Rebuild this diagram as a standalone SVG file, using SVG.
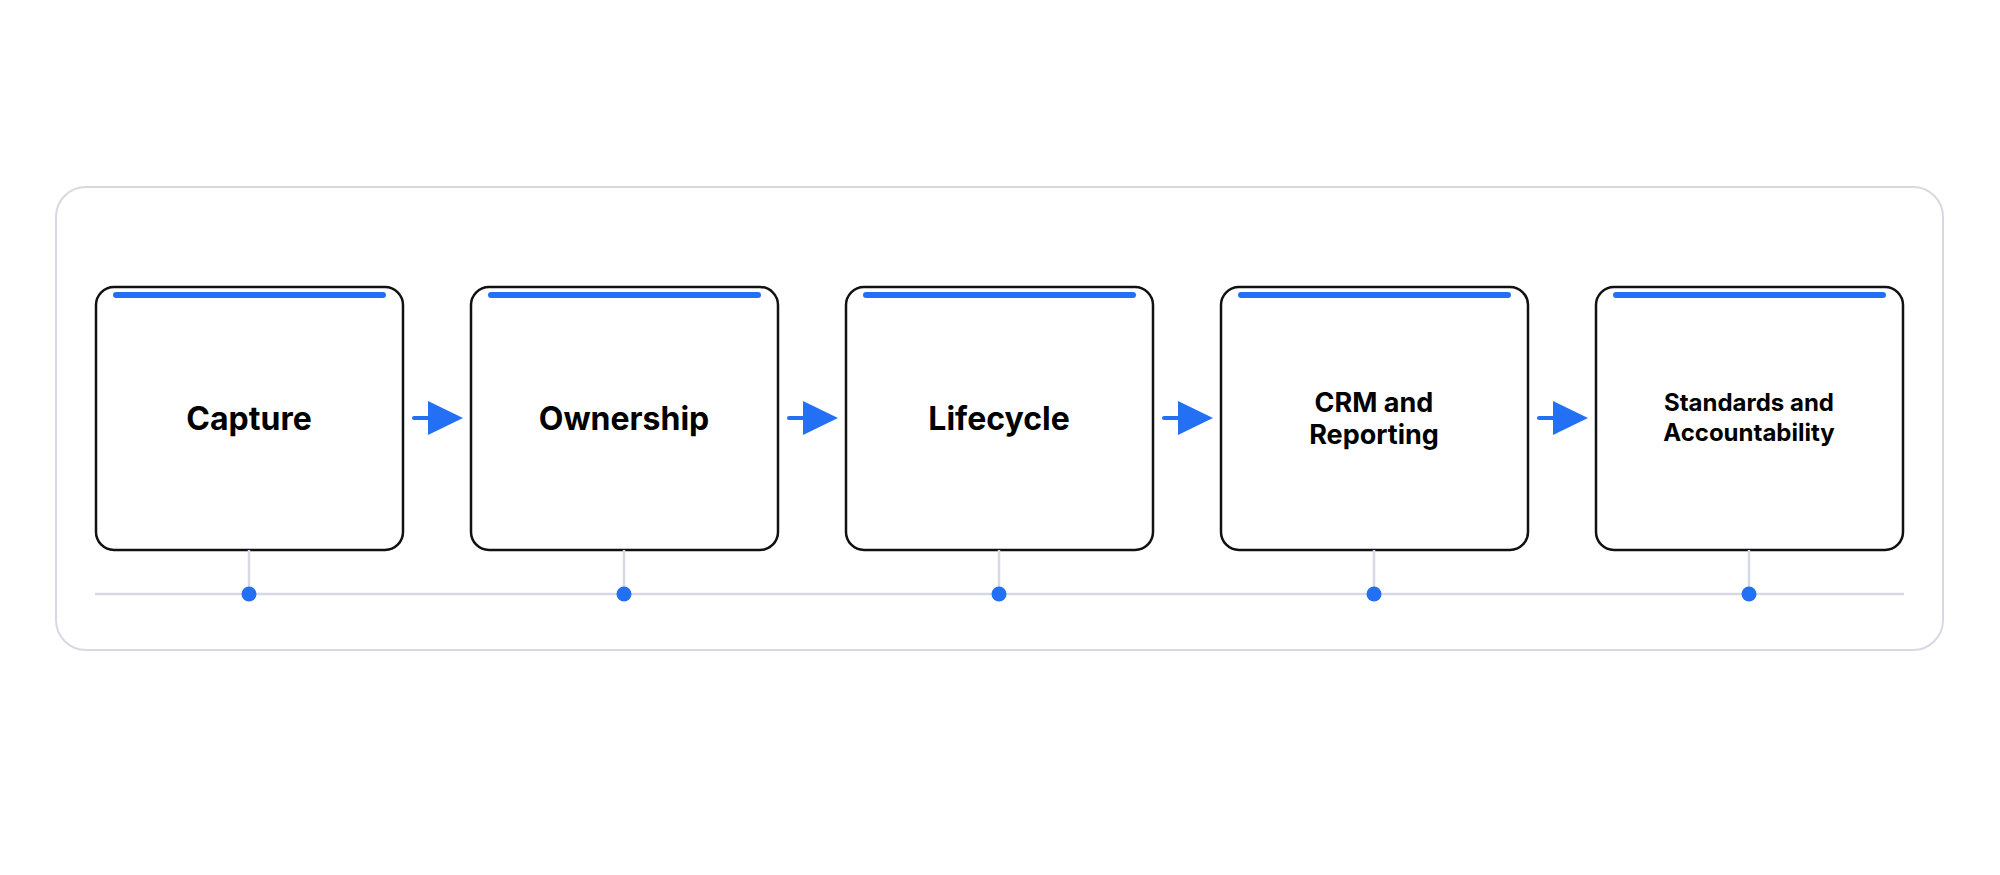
<svg xmlns="http://www.w3.org/2000/svg" width="2000" height="875" viewBox="0 0 2000 875">
<defs><style>
.card{fill:#fff;stroke:#111;stroke-width:2.5}
.bar{stroke:#2470f5;stroke-width:6;stroke-linecap:round}
.lbl{font-family:Inter,"Liberation Sans",sans-serif;font-weight:700;fill:#000;text-anchor:middle}
.grey{stroke:#d6d9e3;stroke-width:2.5}
.dot{fill:#2470f5}
.arr{stroke:#2470f5;stroke-width:4;stroke-linecap:round}
.head{fill:#2470f5}
</style></defs>
<rect width="2000" height="875" fill="#fff"/>
<rect x="56" y="187" width="1887" height="463" rx="30" fill="#fff" stroke="#d6d9e3" stroke-width="2"/>
<g id="timeline">
<line class="grey" x1="95" y1="594" x2="1904" y2="594"/>
</g>
<g id="connectors">
<g><line class="arr" x1="414" y1="418" x2="432" y2="418"/><polygon class="head" points="428,401 463,418 428,435"/></g>
<g><line class="arr" x1="789" y1="418" x2="807" y2="418"/><polygon class="head" points="803,401 838,418 803,435"/></g>
<g><line class="arr" x1="1164" y1="418" x2="1182" y2="418"/><polygon class="head" points="1178,401 1213,418 1178,435"/></g>
<g><line class="arr" x1="1539" y1="418" x2="1557" y2="418"/><polygon class="head" points="1553,401 1588,418 1553,435"/></g>
</g>
<g id="node-capture"><rect class="card" x="96" y="287" width="307" height="263" rx="18"/><line class="bar" x1="116" y1="295" x2="383" y2="295"/><line class="grey" x1="249" y1="550" x2="249" y2="594"/><circle class="dot" cx="249" cy="594" r="7.5"/><text class="lbl" x="249" y="430" font-size="32">Capture</text></g>
<g id="node-ownership"><rect class="card" x="471" y="287" width="307" height="263" rx="18"/><line class="bar" x1="491" y1="295" x2="758" y2="295"/><line class="grey" x1="624" y1="550" x2="624" y2="594"/><circle class="dot" cx="624" cy="594" r="7.5"/><text class="lbl" x="624" y="430" font-size="32">Ownership</text></g>
<g id="node-lifecycle"><rect class="card" x="846" y="287" width="307" height="263" rx="18"/><line class="bar" x1="866" y1="295" x2="1133" y2="295"/><line class="grey" x1="999" y1="550" x2="999" y2="594"/><circle class="dot" cx="999" cy="594" r="7.5"/><text class="lbl" x="999" y="430" font-size="32">Lifecycle</text></g>
<g id="node-crm"><rect class="card" x="1221" y="287" width="307" height="263" rx="18"/><line class="bar" x1="1241" y1="295" x2="1508" y2="295"/><line class="grey" x1="1374" y1="550" x2="1374" y2="594"/><circle class="dot" cx="1374" cy="594" r="7.5"/><text class="lbl" x="1374" y="412" font-size="27">CRM and</text><text class="lbl" x="1374" y="444" font-size="27">Reporting</text></g>
<g id="node-standards"><rect class="card" x="1596" y="287" width="307" height="263" rx="18"/><line class="bar" x1="1616" y1="295" x2="1883" y2="295"/><line class="grey" x1="1749" y1="550" x2="1749" y2="594"/><circle class="dot" cx="1749" cy="594" r="7.5"/><text class="lbl" x="1749" y="411" font-size="24">Standards and</text><text class="lbl" x="1749" y="441" font-size="24">Accountability</text></g>
</svg>
